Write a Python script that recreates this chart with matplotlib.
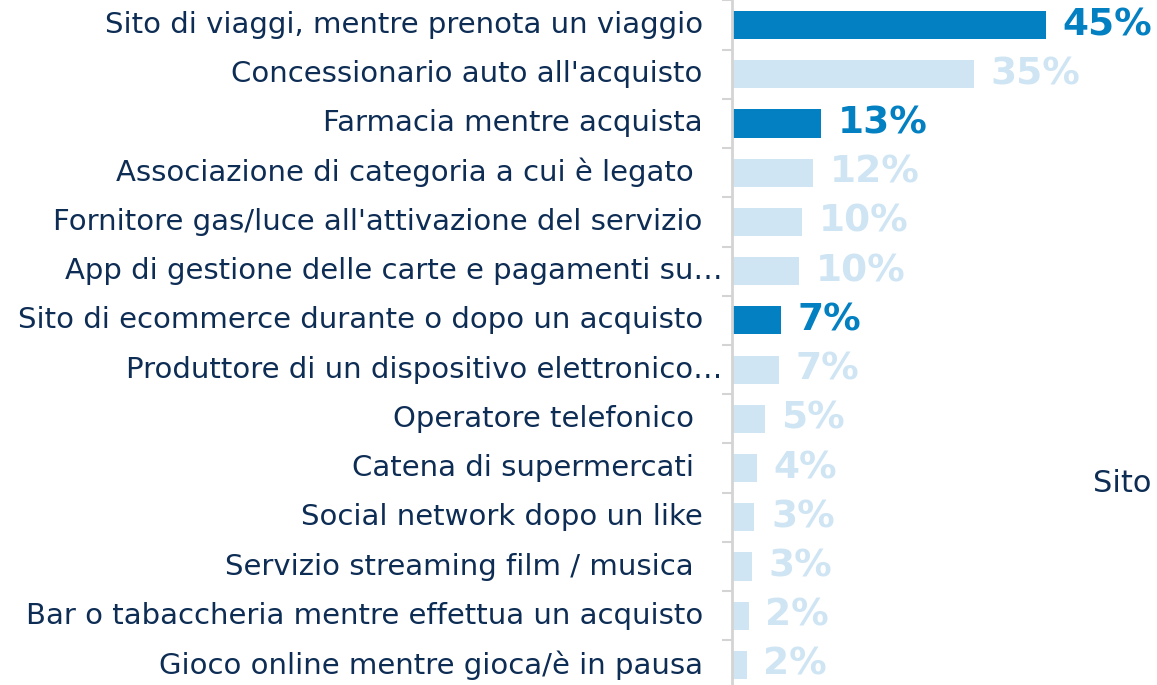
import numpy as np
import matplotlib
matplotlib.use('Agg')
import matplotlib.pyplot as plt

categories = [
    'Sito di viaggi, mentre prenota un viaggio',
    "Concessionario auto all'acquisto",
    'Farmacia mentre acquista',
    'Associazione di categoria a cui è legato ',
    "Fornitore gas/luce all'attivazione del servizio",
    'App di gestione delle carte e pagamenti su…',
    'Sito di ecommerce durante o dopo un acquisto',
    'Produttore di un dispositivo elettronico…',
    'Operatore telefonico ',
    'Catena di supermercati ',
    'Social network dopo un like',
    'Servizio streaming film / musica ',
    'Bar o tabaccheria mentre effettua un acquisto',
    'Gioco online mentre gioca/è in pausa',
]
values = [45.0, 34.7, 12.8, 11.6, 10.0, 9.6, 7.0, 6.7, 4.7, 3.6, 3.2, 2.9, 2.4, 2.1]
labels = ['45%', '35%', '13%', '12%', '10%', '10%', '7%', '7%', '5%', '4%', '3%', '3%', '2%', '2%']
highlight = [True, False, True, False, False, False, True, False,
             False, False, False, False, False, False]
legend_text = 'Sito'

DARK = '#0380c1'
LIGHT = '#cfe5f4'
NAVY = '#0e2d55'
GREY = '#d4d4d4'

plt.rcParams['font.family'] = ['DejaVu Sans']

W, H = 1157, 685
fig = plt.figure(figsize=(W / 100, H / 100), dpi=100)
ax = fig.add_axes([732 / W, -4.6 / H, 60 * 6.98 / W, 689.2 / H])

n = len(categories)
y = np.arange(n)
colors = [DARK if h else LIGHT for h in highlight]
ax.barh(y, values, height=0.57, color=colors)
ax.set_ylim(n - 0.5, -0.5)
ax.set_xlim(0, 60)

for i in range(n):
    ax.annotate(labels[i], (values[i], y[i]), xytext=(12, 0), textcoords='offset points',
                va='center', ha='left', fontsize=27, fontweight='bold', color=colors[i])
    off = -7 if categories[i].endswith('…') else -21
    ax.annotate(categories[i], (0, y[i]), xytext=(off, 0), textcoords='offset points',
                va='center', ha='right', fontsize=21, color=NAVY, annotation_clip=False)

for s in ['top', 'right', 'bottom']:
    ax.spines[s].set_visible(False)
ax.spines['left'].set_color(GREY)
ax.spines['left'].set_linewidth(2)
ax.set_xticks([])
ax.set_yticks(np.arange(-0.5, n, 1.0))
ax.set_yticklabels([])
ax.tick_params(axis='y', length=7, width=1.5, color=GREY)

fig.text(1093 / W, 1 - 483 / H, legend_text, fontsize=22, color=NAVY, va='center', ha='left')

fig.savefig('out.png', dpi=100)
